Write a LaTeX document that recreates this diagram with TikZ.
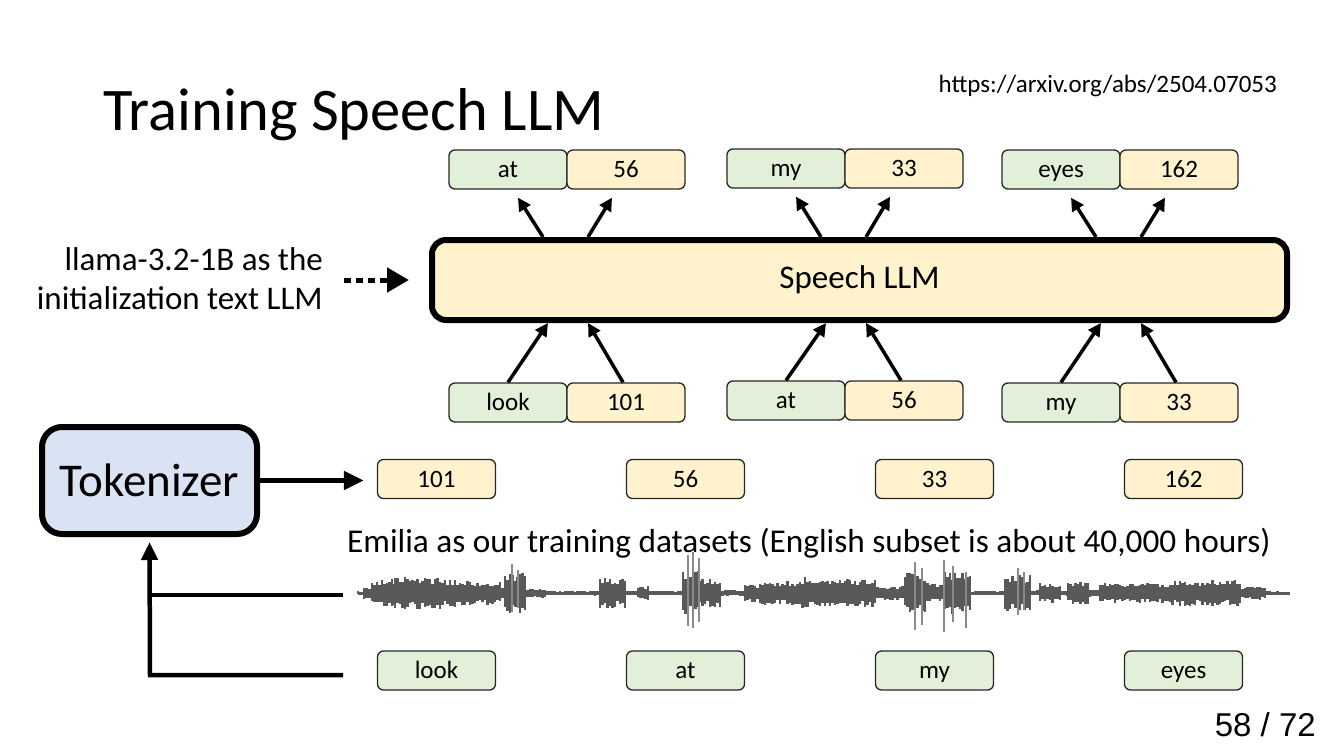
\documentclass[tikz,border=0pt]{standalone}
\usepackage{fontspec}
\setmainfont{Carlito}
\newfontfamily\pagefont{Liberation Sans}
\usetikzlibrary{arrows.meta,calc}
\definecolor{gfill}{HTML}{E2F0D9}
\definecolor{ofill}{HTML}{FFF2CC}
\definecolor{bfill}{HTML}{DAE3F3}
\definecolor{wave}{HTML}{595959}
\definecolor{wavelt}{HTML}{8A8A8A}
\begin{document}
\begin{tikzpicture}[x=1pt,y=-1pt,
  tokbox/.style={draw=black!85, line width=1.3pt, rounded corners=6pt, minimum width=118pt, minimum height=39pt, inner sep=0pt, text height=16pt, text depth=0pt, font=\fontsize{25}{30}\selectfont},
  gbox/.style={tokbox, fill=gfill},
  obox/.style={tokbox, fill=ofill},
  arr/.style={line width=3.5pt, -{Triangle[length=13pt,width=13pt]}},
  bigarr/.style={line width=4.5pt, -{Triangle[length=20pt,width=18pt]}},
  plainline/.style={line width=4.5pt},
  bigbox/.style={draw=black, line width=6pt, rounded corners=14pt}
]
\useasboundingbox (0,0) rectangle (1334,750);

% title, url, page number
\node[anchor=base west, inner sep=0pt] (title) at (103,130) {\fontsize{60.5}{70}\selectfont Training Speech LLM};
\node[anchor=base east, inner sep=0pt] (url) at (1277,92) {\fontsize{25}{30}\selectfont https://arxiv.org/abs/2504.07053};
\node[anchor=base east, inner sep=0pt] (page) at (1316,736) {\pagefont\fontsize{33}{38}\selectfont 58 / 72};

% Speech LLM
\node[bigbox, fill=ofill, minimum width=855pt, minimum height=80pt, font=\fontsize{33}{38}\selectfont] (llm) at (859.5,280) {Speech LLM};

% left text and dashed arrow
\node[anchor=east, align=right, inner sep=0pt, font=\fontsize{33}{39}\selectfont] (llama) at (323,279) {llama-3.2-1B as the\\initialization text LLM};
\coordinate (dsrc) at (344,280);
\draw[line width=5pt, dash pattern=on 7pt off 5pt, -{Triangle[length=22pt,width=24pt]}, shorten >=20pt] (dsrc) -- (llm.west);

% top outputs
\node[gbox] (oat) at (508,169.5) {at};
\node[obox] (o56) at (626,169.5) {56};
\node[gbox] (omy) at (786,168.5) {my};
\node[obox] (o33) at (904,168.5) {33};
\node[gbox] (oeyes) at (1061,169.5) {eyes};
\node[obox] (o162) at (1179,169.5) {162};

% bottom inputs
\node[gbox] (ilook) at (508,402.5) {look};
\node[obox] (i101) at (626,402.5) {101};
\node[gbox] (iat) at (786,400.5) {at};
\node[obox] (i56) at (904,400.5) {56};
\node[gbox] (imy) at (1061,402.5) {my};
\node[obox] (i33) at (1179,402.5) {33};

\foreach \g/\o in {oat/o56, omy/o33, oeyes/o162}{
  \draw[arr] ([xshift=35pt]\g.south |- llm.north) -- ([xshift=10pt,yshift=-8pt]\g.south);
  \draw[arr] ([xshift=-38pt]\o.south |- llm.north) -- ([xshift=-14pt,yshift=-8pt]\o.south);
}
\foreach \g/\o in {ilook/i101, iat/i56, imy/i33}{
  \draw[arr] (\g.north) -- ([xshift=40pt]\g.north |- llm.south);
  \draw[arr] ([xshift=-3pt]\o.north) -- ([xshift=-38pt]\o.north |- llm.south);
}

% Tokenizer
\node[bigbox, rounded corners=20pt, fill=bfill, minimum width=215pt, minimum height=107pt, font=\fontsize{47}{54}\selectfont] (tokz) at (149.5,480.5) {Tokenizer};

% token row
\node[obox] (t101) at (436.5,479) {101};
\node[obox] (t56) at (685.5,479) {56};
\node[obox] (t33) at (934.5,479) {33};
\node[obox] (t162) at (1183.5,479) {162};
\draw[bigarr, shorten >=13pt] (tokz.east) -- (tokz.east -| t101.west);

% dataset text
\node[anchor=west, inner sep=0pt, font=\fontsize{33.3}{38}\selectfont] (emilia) at (347,543) {Emilia as our training datasets (English subset is about 40,000 hours)};

% word row
\node[gbox] (wlook) at (436.5,670.5) {look};
\node[gbox] (wat) at (685.5,670.5) {at};
\node[gbox] (wmy) at (934.5,670.5) {my};
\node[gbox] (weyes) at (1183.5,670.5) {eyes};

% feed lines to tokenizer
\coordinate (c1) at (150,675);
\coordinate (c2) at (343,675);
\coordinate (c3) at (150,595);
\coordinate (c4) at (343,595);
\draw[plainline] (c4) -- (c3);
\draw[plainline, -{Triangle[length=18pt,width=16pt]}, shorten >=5pt] (c2) -- (c1) -- (tokz.south);

% waveform
\fill[wave] (358,592) rectangle (1290,594.5);
\pgfmathsetseed{7}
\foreach \xa/\xb/\am in {358/364/2, 364/372/6, 372/395/14, 395/440/16, 440/470/14, 470/500/12, 500/505/7, 505/525/21, 525/545/5, 545/600/2.5, 600/625/15, 625/638/2.5, 638/648/7, 648/683/2.5, 683/700/22, 700/720/15, 720/745/3, 745/760/9, 760/800/12, 800/850/16, 850/875/14, 875/905/7, 905/925/21, 925/945/10, 945/970/22, 970/1005/2.5, 1005/1030/18, 1030/1040/3, 1040/1060/10, 1060/1068/3, 1068/1090/12, 1090/1100/4, 1100/1170/10, 1170/1240/13, 1240/1265/7, 1265/1285/2}{
  \pgfmathsetmacro\nx{\xa+2.5}
  \foreach \x in {\xa,\nx,...,\xb}{
    \pgfmathsetmacro\ht{\am*(0.55+0.45*rnd)}
    \pgfmathsetmacro\hb{\am*(0.55+0.45*rnd)}
    \fill[wave] (\x-1.4,593-\ht) rectangle (\x+1.4,593+\hb);
  }
}
\foreach \x/\t/\b in {512/564/612, 518/570/608, 688/555/626, 693/552/628, 699/558/622, 915/562/630, 922/568/625, 944/560/632, 953/566/622, 966/572/628, 1018/568/615, 1024/572/610}{
  \draw[wavelt, line width=2.2pt] (\x,\t) -- (\x,\b);
}
\end{tikzpicture}
\end{document}
